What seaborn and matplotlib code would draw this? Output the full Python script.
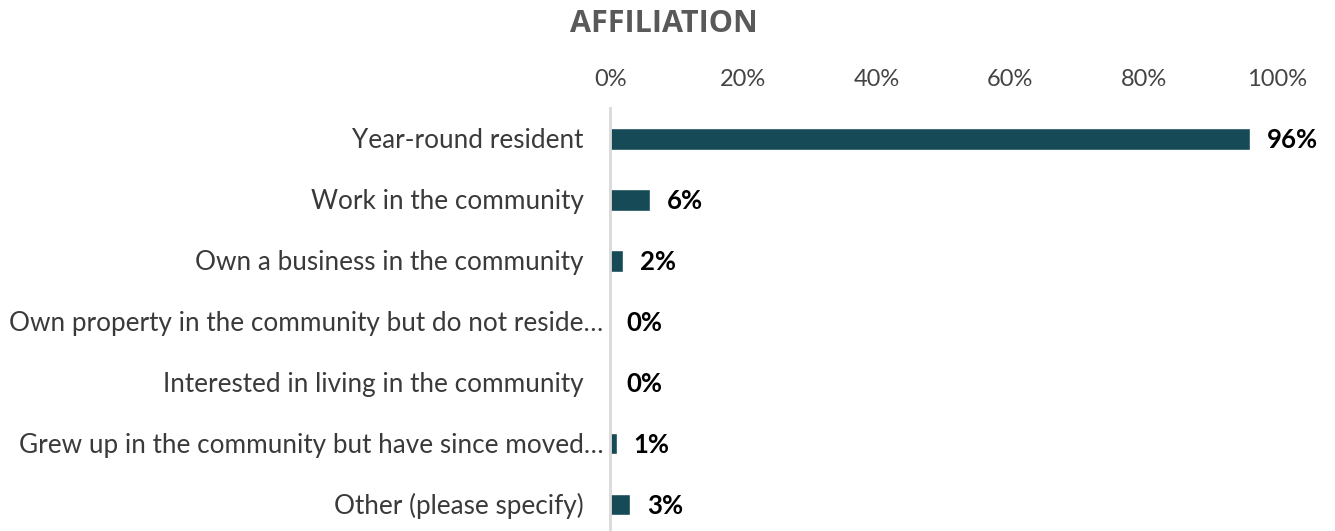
import matplotlib.pyplot as plt
import pandas as pd
import seaborn as sns

# データ
CATEGORIES = [
    "Year-round resident",
    "Work in the community",
    "Own a business in the community",
    "Own property in the community but do not reside…",
    "Interested in living in the community",
    "Grew up in the community but have since moved…",
    "Other (please specify)",
]
VALUES = [96, 6, 2, 0, 0, 1, 3]
X_TICKS = [0, 20, 40, 60, 80, 100]
TITLE = "AFFILIATION"

BAR_COLOR = "#164a57"


def plot_chart(df, output_file):
    sns.set_theme(style="white")
    plt.rcParams["font.family"] = ["Lato", "DejaVu Sans"]

    fig = plt.figure(figsize=(13.35, 5.31), dpi=100)
    ax = fig.add_axes([0.457, 0.0, 0.4996, 0.7957])

    sns.barplot(
        data=df, x="value", y="category", orient="h",
        color=BAR_COLOR, width=0.35, saturation=1, ax=ax,
    )

    ax.set_xlim(0, 100)
    ax.set_ylim(6.43, -0.5)
    ax.set_xticks(X_TICKS)
    ax.set_xticklabels([f"{t}%" for t in X_TICKS], fontsize=17,
                       fontweight="normal", color="#444444")
    ax.xaxis.tick_top()
    ax.tick_params(axis="x", length=0, pad=13)
    ax.set_xlabel("")
    ax.set_ylabel("")
    ax.set_yticks([])

    for s in ["top", "right", "bottom"]:
        ax.spines[s].set_visible(False)
    ax.spines["left"].set_color("#d9d9d9")
    ax.spines["left"].set_linewidth(2)

    # 項目ラベル（省略されたものは軸の近くまで伸びる）
    for i, (cat, val) in enumerate(zip(df["category"], df["value"])):
        off = -5 if cat.endswith("…") else -19
        ax.annotate(cat, xy=(0, i), xytext=(off, -1), textcoords="offset points",
                    ha="right", va="center", fontsize=18.8, fontweight="normal",
                    color="#3a3a3a", annotation_clip=False)
        ax.annotate(f"{val}%", xy=(val, i), xytext=(12, -1),
                    textcoords="offset points", ha="left", va="center",
                    fontsize=18.5, fontweight="bold", color="black")

    fig.text(0.497, 0.955, TITLE, ha="center", va="center", fontsize=22,
             fontweight="bold", color="#595959", family=["Open Sans", "DejaVu Sans"])

    fig.savefig(output_file, dpi=100)
    plt.close(fig)


def main():
    df = pd.DataFrame({"category": CATEGORIES, "value": VALUES})
    plot_chart(df, "out.png")


if __name__ == "__main__":
    main()
